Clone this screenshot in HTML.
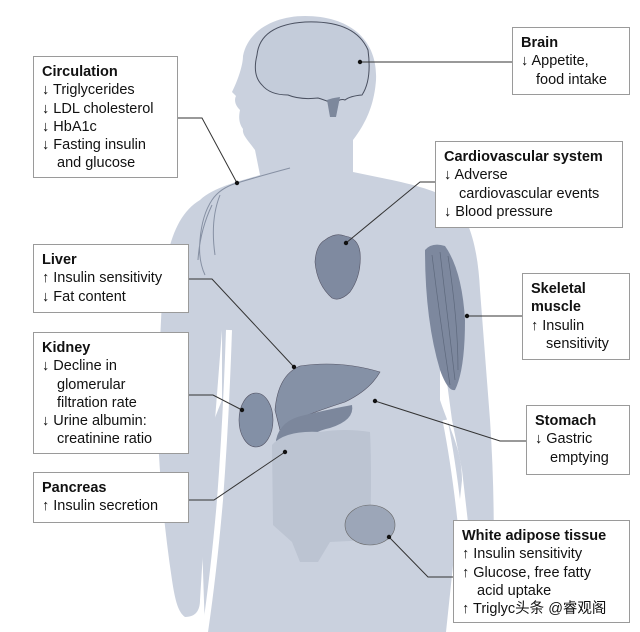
<!DOCTYPE html>
<html><head><meta charset="utf-8"><style>
html,body{margin:0;padding:0;background:#fff;}
.w{position:relative;width:640px;height:632px;overflow:hidden;font-family:"Liberation Sans","Noto Sans CJK SC",sans-serif;}
.b{position:absolute;background:#fff;border:1px solid #9a9a9a;box-sizing:border-box;font-size:14.5px;line-height:18.3px;color:#111;padding:6px 0 0 8px;}
.b b{display:block;}
.i{padding-left:15px;}
svg{position:absolute;left:0;top:0;}
</style></head><body><div class="w">
<svg width="640" height="632" viewBox="0 0 640 632">
<g fill="#cad1de">
<path d="M305 16 C350 16 378 40 376 80 C374 110 362 128 353 140 L353 172 C390 180 430 186 450 200 C460 215 448 260 440 290 L440 400 C450 430 462 450 462 480 L446 632 L205 632 L200 480 C198 460 210 430 222 400 L222 290 C214 260 200 215 200 200 C215 186 245 180 260 175 L255 150 C248 140 242 135 243 129 C238 122 239 115 240 110 C235 105 234 100 236 96 L232 92 C238 80 243 65 243 56 C248 30 275 16 305 16 Z"/>
<path d="M200 200 C175 215 165 250 162 300 L157 403 C158 460 163 520 172 580 C175 600 178 612 185 617 C196 617 200 610 200 600 L205 520 L215 420 L222 330 L222 260 Z"/>
<path d="M450 200 C470 215 478 250 480 290 L490 420 C494 480 495 540 492 600 C490 610 484 612 478 606 C472 595 472 570 470 540 L462 470 L452 420 L440 330 L440 260 Z"/>
</g>
<path d="M229 330 Q226 420 220 500 Q214 570 205 632" stroke="#fff" stroke-width="6" fill="none"/>
<path d="M445 420 Q455 470 462 540" stroke="#fff" stroke-width="5" fill="none"/>
<path d="M257 55 Q260 25 305 22 Q355 20 368 50 Q372 80 362 95 Q350 96 345 100 Q340 98 334 104 Q325 100 318 98 Q300 100 288 95 Q270 95 262 85 Q252 75 257 55 Z" fill="#c4ccda" stroke="#4a5060" stroke-width="1"/>
<path d="M327 100 Q332 98 340 97 L336 117 L330 117 Z" fill="#7d889c"/>
<path d="M237 183 Q220 188 212 200 Q202 215 200 240 Q198 260 205 275 M237 183 Q260 176 290 168 M220 195 Q210 220 215 255 M212 205 Q200 230 198 260" stroke="#8690a3" stroke-width="1" fill="none"/>
<path d="M325 240 Q335 232 345 236 Q358 238 360 252 Q362 275 350 292 Q340 302 332 298 Q317 285 315 262 Q316 245 325 240 Z" fill="#7f8aa0" stroke="#556" stroke-width=".6"/>
<path d="M425 250 Q432 242 445 246 Q462 270 465 320 Q465 370 455 390 Q448 392 440 370 Q425 320 425 250 Z" fill="#7d889e"/>
<g stroke="#5d687c" stroke-width=".7" fill="none"><path d="M432 255 Q440 320 450 385 M440 252 Q448 320 455 380 M448 256 Q458 320 458 370"/></g>
<path d="M275 410 Q278 375 300 366 Q340 360 380 372 Q370 390 345 402 Q320 410 300 418 L280 430 Z" fill="#8591a6" stroke="#556" stroke-width=".6"/>
<path d="M276 440 Q280 420 305 415 Q335 408 352 405 Q355 420 330 428 Q310 432 304 445 Q300 460 290 462 Q278 458 276 440 Z" fill="#7c879c"/>
<ellipse cx="256" cy="420" rx="17" ry="27" fill="#8390a6" stroke="#556" stroke-width=".6"/>
<path d="M272 445 Q285 430 320 432 Q345 428 370 432 Q372 470 370 540 L330 542 L318 562 L300 562 L292 542 L273 525 Z" fill="#bcc4d2"/>
<ellipse cx="370" cy="525" rx="25" ry="20" fill="#9ca6b8" stroke="#666" stroke-width=".6"/>
<g stroke="#333" stroke-width="1" fill="none">
<polyline points="177,118 202,118 237,183"/>
<polyline points="360,62 512,62"/>
<polyline points="435,182 420,182 346,243"/>
<polyline points="189,279 212,279 294,367"/>
<polyline points="467,316 522,316"/>
<polyline points="189,395 213,395 242,410"/>
<polyline points="375,401 500,441 526,441"/>
<polyline points="189,500 214,500 285,452"/>
<polyline points="389,537 428,577 453,577"/>
</g>
<g fill="#111"><circle cx="237" cy="183" r="2.2"/><circle cx="360" cy="62" r="2.2"/><circle cx="346" cy="243" r="2.2"/><circle cx="294" cy="367" r="2.2"/><circle cx="467" cy="316" r="2.2"/><circle cx="242" cy="410" r="2.2"/><circle cx="375" cy="401" r="2.2"/><circle cx="285" cy="452" r="2.2"/><circle cx="389" cy="537" r="2.2"/></g>
</svg>
<div class="b" style="left:33px;top:56px;width:145px;height:122px"><b>Circulation</b>↓ Triglycerides<br>↓ LDL cholesterol<br>↓ HbA1c<br>↓ Fasting insulin<br><span class="i">and glucose</span></div>
<div class="b" style="left:512px;top:27px;width:118px;height:68px"><b>Brain</b>↓ Appetite,<br><span class="i">food intake</span></div>
<div class="b" style="left:435px;top:141px;width:188px;height:87px"><b>Cardiovascular system</b>↓ Adverse<br><span class="i">cardiovascular events</span><br>↓ Blood pressure</div>
<div class="b" style="left:33px;top:244px;width:156px;height:69px"><b>Liver</b>↑ Insulin sensitivity<br>↓ Fat content</div>
<div class="b" style="left:522px;top:273px;width:108px;height:87px"><b>Skeletal<br>muscle</b>↑ Insulin<br><span class="i">sensitivity</span></div>
<div class="b" style="left:33px;top:332px;width:156px;height:122px"><b>Kidney</b>↓ Decline in<br><span class="i">glomerular</span><br><span class="i">filtration rate</span><br>↓ Urine albumin:<br><span class="i">creatinine ratio</span></div>
<div class="b" style="left:526px;top:405px;width:104px;height:70px"><b>Stomach</b>↓ Gastric<br><span class="i">emptying</span></div>
<div class="b" style="left:33px;top:472px;width:156px;height:51px"><b>Pancreas</b>↑ Insulin secretion</div>
<div class="b" style="left:453px;top:520px;width:177px;height:103px"><b>White adipose tissue</b>↑ Insulin sensitivity<br>↑ Glucose, free fatty<br><span class="i">acid uptake</span><br>↑ Triglyc头条 @睿观阁</div>
</div></body></html>
